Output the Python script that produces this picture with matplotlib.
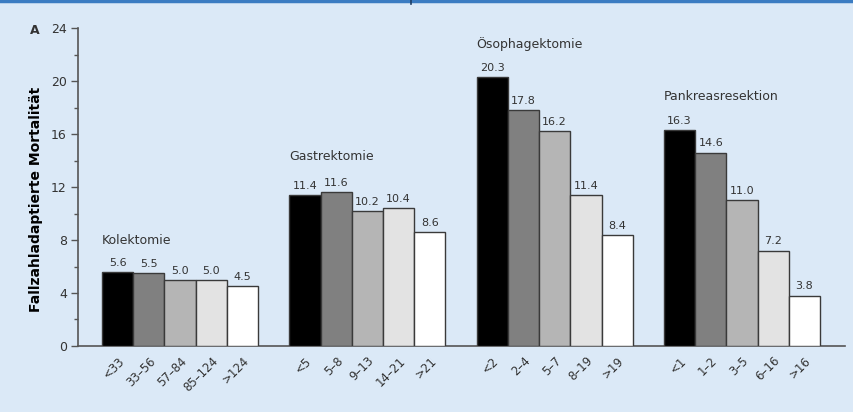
import matplotlib
matplotlib.use('Agg')
import matplotlib.pyplot as plt
from matplotlib.lines import Line2D
from matplotlib.ticker import MultipleLocator
import numpy as np

GROUPS = ['Kolektomie', 'Gastrektomie', 'Ösophagektomie', 'Pankreasresektion']

CATEGORIES = [
    ['<33', '33–56', '57–84', '85–124', '>124'],
    ['<5', '5–8', '9–13', '14–21', '>21'],
    ['<2', '2–4', '5–7', '8–19', '>19'],
    ['<1', '1–2', '3–5', '6–16', '>16'],
]

MORTALITY = [
    [5.6, 5.5, 5.0, 5.0, 4.5],
    [11.4, 11.6, 10.2, 10.4, 8.6],
    [20.3, 17.8, 16.2, 11.4, 8.4],
    [16.3, 14.6, 11.0, 7.2, 3.8],
]

# height of the group caption in data units
GROUP_LABEL_Y = [8.0, 14.3, 22.8, 18.8]

# grey ramp from smallest to largest case volume
SHADES = ['#000000', '#808080', '#b5b5b5', '#e3e3e3', '#ffffff']
BG = '#dbe9f7'
INK = '#333333'

fig = plt.figure(figsize=(8.54, 4.12), dpi=100, facecolor=BG)
ax = fig.add_axes([0.0913, 0.1602, 0.8982, 0.7718], facecolor=BG)

xs_all, labels_all = [], []
for g, (name, cats, vals) in enumerate(zip(GROUPS, CATEGORIES, MORTALITY)):
    xs = np.arange(len(vals)) + 6 * g
    ax.bar(xs, vals, width=1.0, color=SHADES, edgecolor='#3a3a3a',
           linewidth=1.0, zorder=3)
    for x, v in zip(xs, vals):
        ax.annotate('%.1f' % v, (x, v), xytext=(0, 3),
                    textcoords='offset points', ha='center', va='bottom',
                    fontsize=8, color=INK)
    ax.text(xs[0] - 0.5, GROUP_LABEL_Y[g], name, ha='left', va='center',
            fontsize=9, color=INK)
    xs_all.extend(xs)
    labels_all.extend(cats)

ax.set_xlim(-1.27, 23.3)
ax.set_ylim(0, 24)
ax.set_xticks(xs_all)
ax.set_xticklabels(labels_all, rotation=45, ha='right',
                   rotation_mode='anchor', fontsize=8.5, color=INK)
ax.tick_params(axis='x', length=0, pad=6)

ax.yaxis.set_major_locator(MultipleLocator(4))
ax.yaxis.set_minor_locator(MultipleLocator(2))
ax.tick_params(axis='y', which='major', length=5, width=1, color='#555555',
               labelsize=9, labelcolor=INK, pad=3)
ax.tick_params(axis='y', which='minor', length=3, width=1, color='#555555')

for side in ['top', 'right']:
    ax.spines[side].set_visible(False)
for side in ['left', 'bottom']:
    ax.spines[side].set_color('#555555')
    ax.spines[side].set_linewidth(1.2)

ax.set_ylabel('Fallzahladaptierte Mortalität', fontsize=10,
              fontweight='bold', color='black')
ax.yaxis.set_label_coords(-0.046, 0.46)
fig.text(30 / 854, 1 - 30 / 412, 'A', fontsize=9, fontweight='bold',
         color=INK, ha='left', va='center')

# blue rule across the top edge, with a small notch mark
fig.add_artist(Line2D([0, 1], [0.997, 0.997], transform=fig.transFigure,
                      color='#3b7cc2', linewidth=2.5))
fig.add_artist(Line2D([411 / 854, 411 / 854], [1.0, 0.99],
                      transform=fig.transFigure, color='#1f3f66',
                      linewidth=1.2))

fig.savefig('out.png', dpi=100, facecolor=BG)
